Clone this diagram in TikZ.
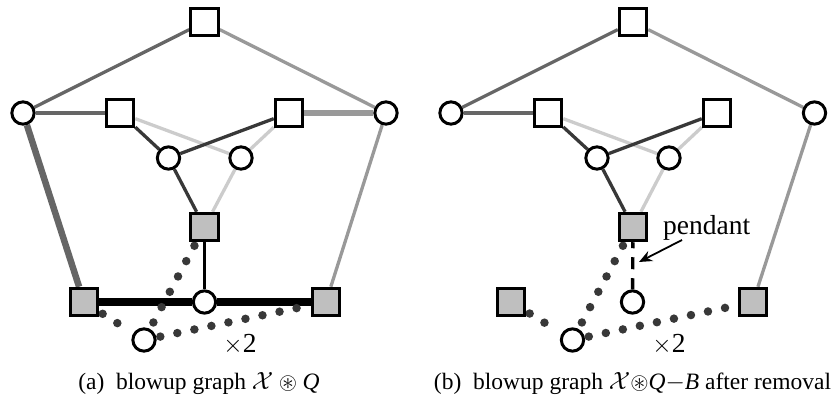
\documentclass[tikz,border=0pt]{standalone}
\usepackage{amssymb}
\usepackage{fontspec}
\setmainfont{Liberation Serif}
\usetikzlibrary{backgrounds,arrows.meta}
\definecolor{gA}{gray}{0.40}
\definecolor{gB}{gray}{0.60}
\definecolor{gC}{gray}{0.80}
\definecolor{gD}{gray}{0.22}
\definecolor{gF}{gray}{0.75}
\definecolor{dotc}{gray}{0.22}
\tikzset{
  sq/.style={draw=black, fill=white, line width=3pt, minimum size=27.5pt, inner sep=0pt, rectangle},
  gsq/.style={sq, fill=gF},
  circ/.style={draw=black, fill=white, line width=3pt, minimum size=22.3pt, inner sep=0pt, circle},
  eA/.style={draw=gA, line width=3.3pt},
  eAthick/.style={draw=gA, line width=6.5pt},
  eB/.style={draw=gB, line width=3.3pt},
  eBthick/.style={draw=gB, line width=6.5pt},
  eC/.style={draw=gC, line width=3.3pt},
  eD/.style={draw=gD, line width=3.3pt},
  eK/.style={draw=black, line width=3.3pt},
  eKthick/.style={draw=black, line width=7.5pt},
  dots/.style={draw=dotc, line width=8.5pt, line cap=round, dash pattern=on 0pt off 17.4pt, shorten <=4pt, shorten >=3pt},
  dsh/.style={draw=black, line width=3.4pt, dash pattern=on 12pt off 9pt, dash phase=6pt},
  captxt/.style={font=\fontsize{23.5}{28}\selectfont, anchor=base, inner sep=0pt},
  lbl/.style={font=\fontsize{27.5}{32}\selectfont, anchor=base, inner sep=0pt},
}
\begin{document}
\begin{tikzpicture}[x=1pt,y=-1pt]
\useasboundingbox (0,0) rectangle (831,403);
% ---------- (a) ----------
\node[sq]   (aT)  at (204.5,22) {};
\node[circ] (aLc) at (23,113) {};
\node[sq]   (aL2) at (120,113) {};
\node[sq]   (aR2) at (289,113) {};
\node[circ] (aRc) at (386,113) {};
\node[circ] (ac1) at (168.5,158) {};
\node[circ] (ac2) at (241,158) {};
\node[gsq]  (aG)  at (204.5,227) {};
\node[gsq]  (aBL) at (84,302) {};
\node[gsq]  (aBR) at (326,302) {};
\node[circ] (aM)  at (204.5,302) {};
\node[circ] (aLo) at (144,340) {};
\node[lbl]  (ax2) at (240,353) {\(\times\)2};
\node[captxt]  (acap) at (199,390) {(a)\enspace blowup graph $\mathcal{X}\circledast\textit{Q}$};
% ---------- (b) ----------
\node[sq]   (bT)  at (633,22) {};
\node[circ] (bLc) at (451,113) {};
\node[sq]   (bL2) at (548,113) {};
\node[sq]   (bR2) at (717,113) {};
\node[circ] (bRc) at (814.5,113) {};
\node[circ] (bc1) at (597,158) {};
\node[circ] (bc2) at (669,158) {};
\node[gsq]  (bG)  at (633,227) {};
\node[gsq]  (bBL) at (511,302) {};
\node[gsq]  (bBR) at (753,302) {};
\node[circ] (bP)  at (632.5,302) {};
\node[circ] (bLo) at (572.5,340) {};
\node[lbl]  (bx2) at (669,353) {\(\times\)2};
\node[lbl, anchor=base west] (pend) at (663,235) {pendant};
\coordinate (ptail) at (682,240);
\coordinate (ptip)  at (639,262);
\node[captxt]  (bcap) at (632.5,390) {(b)\enspace blowup graph $\mathcal{X}\mathord{\circledast}\textit{Q}\mathord{-}\textit{B}$ after removal};
\draw[line width=1.8pt, -{Stealth[length=13pt,width=11pt]}] (ptail) -- (ptip);
\begin{pgfonlayer}{background}
% (a) edges
\draw[eA] (aT) -- (aLc);
\draw[eB] (aT) -- (aRc);
\draw[eA, line width=3.8pt] (aLc) -- (aL2);
\draw[eC] (aL2) -- (ac2);
\draw[eD] (aL2) -- (ac1);
\draw[eD] (ac1) -- (aR2);
\draw[eC] (aR2) -- (ac2);
\draw[eBthick] (aR2) -- (aRc);
\draw[eAthick] (aLc) -- (aBL);
\draw[eB] (aRc) -- (aBR);
\draw[eD] (ac1) -- (aG);
\draw[eC] (ac2) -- (aG);
\draw[eK] (aG) -- (aM);
\draw[eKthick] (aBL) -- (aM);
\draw[eKthick] (aM) -- (aBR);
\draw[dots] (aG) -- (aLo);
\draw[dots] (aBL) -- (aLo);
\draw[dots] (aLo) -- (aBR);
% (b) edges
\draw[eA] (bT) -- (bLc);
\draw[eB] (bT) -- (bRc);
\draw[eA, line width=3.8pt] (bLc) -- (bL2);
\draw[eC] (bL2) -- (bc2);
\draw[eD] (bL2) -- (bc1);
\draw[eD] (bc1) -- (bR2);
\draw[eC] (bR2) -- (bc2);
\draw[eB] (bRc) -- (bBR);
\draw[eD] (bc1) -- (bG);
\draw[eC] (bc2) -- (bG);
\draw[dsh] (bG) -- (bP);
\draw[dots] (bG) -- (bLo);
\draw[dots] (bBL) -- (bLo);
\draw[dots] (bLo) -- (bBR);
\end{pgfonlayer}
\end{tikzpicture}
\end{document}
